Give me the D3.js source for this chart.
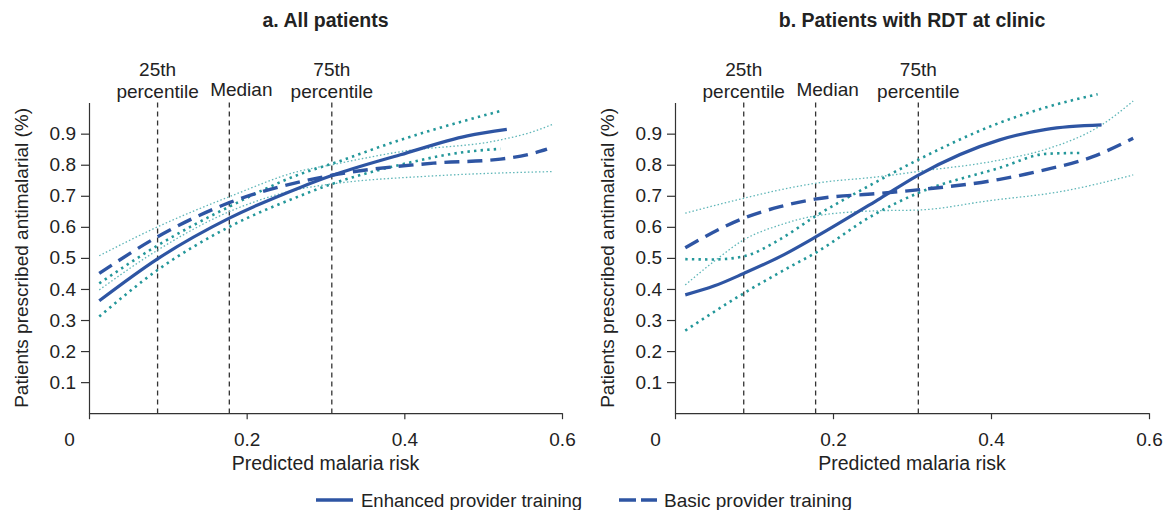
<!DOCTYPE html>
<html>
<head>
<meta charset="utf-8">
<script src="https://cdn.jsdelivr.net/npm/d3@7"></script>
<style>
  body { margin: 0; background: #fff; }
  svg { font-family: "Liberation Sans", Arial, sans-serif; }
  .axis path, .axis line { stroke: #333; stroke-width: 1.2; }
  .axis text { fill: #222; font-size: 19px; }
</style>
</head>
<body>
<svg id="chart" width="1165" height="510"></svg>
<script>
var svg = d3.select("#chart");

var mainColor = "#2e55a3", ciColor = "#23979a", ciLight = "#5fb6b8";

// percentile markers (predicted malaria risk)
var percentiles = [0.087, 0.178, 0.308];
var percentileLabels = [["25th", "percentile"], ["Median"], ["75th", "percentile"]];
var xTicks = [0, 0.2, 0.4, 0.6];
var yTicks = [0.1, 0.2, 0.3, 0.4, 0.5, 0.6, 0.7, 0.8, 0.9];

// a. All patients
var enhA_x = [0.013, 0.087, 0.178, 0.268, 0.308, 0.395, 0.48, 0.53];
var enhA_y = [0.362, 0.497, 0.628, 0.727, 0.765, 0.832, 0.893, 0.914];
var enhA_hi_x = [0.013, 0.087, 0.178, 0.268, 0.308, 0.395, 0.48, 0.522];
var enhA_hi_y = [0.418, 0.54, 0.665, 0.77, 0.803, 0.88, 0.944, 0.973];
var enhA_lo_x = [0.013, 0.087, 0.178, 0.268, 0.308, 0.395, 0.48, 0.522];
var enhA_lo_y = [0.311, 0.461, 0.60, 0.70, 0.738, 0.80, 0.842, 0.851];
var basA_x = [0.013, 0.087, 0.178, 0.268, 0.308, 0.437, 0.522, 0.564, 0.581];
var basA_y = [0.45, 0.568, 0.678, 0.745, 0.766, 0.805, 0.818, 0.837, 0.85];
var basA_hi_x = [0.013, 0.087, 0.178, 0.268, 0.308, 0.395, 0.522, 0.564, 0.589];
var basA_hi_y = [0.507, 0.60, 0.697, 0.78, 0.80, 0.842, 0.88, 0.907, 0.931];
var basA_lo_x = [0.013, 0.087, 0.178, 0.268, 0.308, 0.437, 0.589];
var basA_lo_y = [0.397, 0.525, 0.649, 0.722, 0.738, 0.764, 0.778];

// b. Patients with RDT at clinic
var enhB_x = [0.013, 0.05, 0.087, 0.133, 0.177, 0.26, 0.307, 0.411, 0.47, 0.54];
var enhB_y = [0.381, 0.41, 0.45, 0.504, 0.566, 0.692, 0.765, 0.88, 0.914, 0.928];
var enhB_hi_x = [0.013, 0.05, 0.087, 0.133, 0.177, 0.25, 0.307, 0.411, 0.47, 0.535];
var enhB_hi_y = [0.496, 0.495, 0.505, 0.56, 0.633, 0.738, 0.815, 0.935, 0.985, 1.027];
var enhB_lo_x = [0.013, 0.087, 0.146, 0.177, 0.251, 0.307, 0.411, 0.47, 0.513];
var enhB_lo_y = [0.266, 0.386, 0.472, 0.515, 0.638, 0.708, 0.79, 0.835, 0.838];
var basB_x = [0.013, 0.087, 0.133, 0.177, 0.26, 0.307, 0.411, 0.462, 0.529, 0.58];
var basB_y = [0.533, 0.628, 0.665, 0.689, 0.708, 0.719, 0.753, 0.78, 0.826, 0.885];
var basB_hi_x = [0.013, 0.087, 0.133, 0.177, 0.26, 0.307, 0.411, 0.47, 0.54, 0.58];
var basB_hi_y = [0.644, 0.692, 0.719, 0.74, 0.762, 0.778, 0.815, 0.85, 0.928, 1.005];
var basB_lo_x = [0.013, 0.05, 0.087, 0.133, 0.177, 0.26, 0.307, 0.4, 0.487, 0.58];
var basB_lo_y = [0.413, 0.49, 0.558, 0.606, 0.635, 0.652, 0.654, 0.685, 0.713, 0.767];

var plotTop = 102.6, plotBottom = 413.2;

function zip(xs, ys){
  return xs.map(function(x, i){ return {x: x, y: ys[i]}; });
}

function drawPanel(left, right, title, s){
  var g = svg.append("g").attr("transform", "translate(" + left + ",0)");
  var w = right - left;

  var xScale = d3.scaleLinear().domain([0, 0.6]).range([0, w]);
  var yScale = d3.scaleLinear().domain([0, 1]).range([plotBottom, plotTop]);

  var line = d3.line()
    .x(function(d){ return xScale(d.x); })
    .y(function(d){ return yScale(d.y); })
    .curve(d3.curveMonotoneX);

  g.append("text")
    .attr("x", w/2).attr("y", 27)
    .attr("text-anchor", "middle")
    .style("font-size", "19.5px").style("font-weight", "bold").style("fill", "#222")
    .text(title);

  // y axis
  g.append("g").attr("class", "axis")
    .call(d3.axisLeft(yScale).tickValues(yTicks).tickSize(8).tickSizeOuter(0)
      .tickPadding(5).tickFormat(d3.format(".1f")));

  // x axis
  var xa = g.append("g").attr("class", "axis")
    .attr("transform", "translate(0," + plotBottom + ")")
    .call(d3.axisBottom(xScale).tickValues(xTicks).tickSize(6).tickSizeOuter(0)
      .tickPadding(13).tickFormat(function(d){ return d == 0 ? "0" : d3.format(".1f")(d); }));
  xa.selectAll(".tick text").filter(function(d){ return d == 0; }).attr("dx", -20);

  // percentile markers
  percentiles.forEach(function(p, i){
    g.append("line")
      .attr("x1", xScale(p)).attr("x2", xScale(p))
      .attr("y1", plotTop).attr("y2", plotBottom)
      .attr("stroke", "#333").attr("stroke-width", 1.3)
      .attr("stroke-dasharray", "5,4");
    var lab = percentileLabels[i];
    lab.forEach(function(t, j){
      g.append("text")
        .attr("x", xScale(p) + (lab.length == 1 ? 12 : 0))
        .attr("y", lab.length == 1 ? 96 : 76 + j*22)
        .attr("text-anchor", "middle")
        .style("font-size", "19px").style("fill", "#222")
        .text(t);
    });
  });

  // confidence bands: basic (thin), enhanced (heavy dots)
  [s.basHi, s.basLo].forEach(function(d){
    g.append("path").datum(d).attr("d", line)
      .attr("fill", "none").attr("stroke", ciLight)
      .attr("stroke-width", 1.3).attr("stroke-dasharray", "1.5,2.2");
  });
  [s.enhHi, s.enhLo].forEach(function(d){
    g.append("path").datum(d).attr("d", line)
      .attr("fill", "none").attr("stroke", ciColor)
      .attr("stroke-width", 2.6).attr("stroke-dasharray", "2.4,4.2");
  });

  g.append("path").datum(s.bas).attr("d", line)
    .attr("fill", "none").attr("stroke", mainColor)
    .attr("stroke-width", 3.4).attr("stroke-dasharray", "15,8");
  g.append("path").datum(s.enh).attr("d", line)
    .attr("fill", "none").attr("stroke", mainColor)
    .attr("stroke-width", 3.2);

  // axis titles
  g.append("text")
    .attr("x", w/2).attr("y", 470)
    .attr("text-anchor", "middle")
    .style("font-size", "19.5px").style("fill", "#222")
    .text("Predicted malaria risk");

  g.append("text")
    .attr("transform", "translate(-61," + ((plotTop + plotBottom)/2) + ") rotate(-90)")
    .attr("text-anchor", "middle")
    .style("font-size", "19px").style("fill", "#222")
    .text("Patients prescribed antimalarial (%)");
}

drawPanel(89, 562, "a. All patients", {
  enh: zip(enhA_x, enhA_y), enhHi: zip(enhA_hi_x, enhA_hi_y), enhLo: zip(enhA_lo_x, enhA_lo_y),
  bas: zip(basA_x, basA_y), basHi: zip(basA_hi_x, basA_hi_y), basLo: zip(basA_lo_x, basA_lo_y)
});
drawPanel(675, 1149, "b. Patients with RDT at clinic", {
  enh: zip(enhB_x, enhB_y), enhHi: zip(enhB_hi_x, enhB_hi_y), enhLo: zip(enhB_lo_x, enhB_lo_y),
  bas: zip(basB_x, basB_y), basHi: zip(basB_hi_x, basB_hi_y), basLo: zip(basB_lo_x, basB_lo_y)
});

// legend
var legend = svg.append("g");
legend.append("line")
  .attr("x1", 316).attr("x2", 353).attr("y1", 500).attr("y2", 500)
  .attr("stroke", mainColor).attr("stroke-width", 3.4);
legend.append("text")
  .attr("x", 361).attr("y", 507)
  .style("font-size", "18.5px").style("fill", "#222")
  .text("Enhanced provider training");
legend.append("line")
  .attr("x1", 619).attr("x2", 657).attr("y1", 500).attr("y2", 500)
  .attr("stroke", mainColor).attr("stroke-width", 3.4)
  .attr("stroke-dasharray", "17,5");
legend.append("text")
  .attr("x", 664).attr("y", 507)
  .style("font-size", "19px").style("fill", "#222")
  .text("Basic provider training");
</script>
</body>
</html>
